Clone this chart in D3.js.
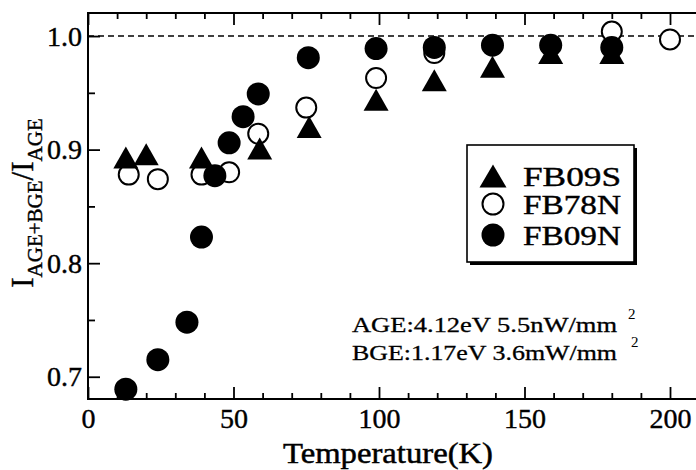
<!DOCTYPE html>
<head>
	<script src="https://d3js.org/d3.v7.min.js"></script>
	<style>
		body { margin: 0; background: #fff; }
		text { font-family: "Liberation Serif", "Times New Roman", Times, serif; fill: #000; }
	</style>
</head>
<body>
	<script type="text/javascript">
		// Chart values
		var seriesNames = ["FB09S", "FB78N", "FB09N"];

		var fb09sT = [13, 20, 39, 59, 76, 99, 119, 139, 159, 180];
		var fb09sV = [0.893, 0.896, 0.893, 0.901, 0.920, 0.944, 0.961, 0.973, 0.985, 0.985];

		var fb78nT = [14, 24, 39, 48.5, 58.5, 75, 99, 119, 180, 200];
		var fb78nV = [0.878, 0.874, 0.878, 0.880, 0.914, 0.937, 0.963, 0.985, 1.004, 0.997];

		var fb09nT = [13, 24, 34, 39, 43.6, 48.5, 53.3, 58.5, 75.7, 99, 119, 139, 159, 180];
		var fb09nV = [0.689, 0.715, 0.748, 0.823, 0.877, 0.906, 0.929, 0.949, 0.981, 0.989, 0.990, 0.992, 0.992, 0.990];

		var xMajor = [0, 50, 100, 150, 200];
		var xMinor = [10, 20, 30, 40, 60, 70, 80, 90, 110, 120, 130, 140, 160, 170, 180, 190];
		var yMajor = [0.7, 0.8, 0.9, 1.0];
		var yMinor = [0.75, 0.85, 0.95];

		var annotLines = ["AGE:4.12eV 5.5nW/mm", "BGE:1.17eV 3.6mW/mm"];

		// Size
		var width = 696, height = 470;
		var mLeft = 88, mTop = 13, mBottom = 399;
		var serif = '"Liberation Serif", "Times New Roman", Times, serif';

		var svg = d3.select('body').append('svg')
		  .attr('width', width)
		  .attr('height', height);

		var x = d3.scaleLinear().domain([0, 210]).range([mLeft, mLeft + 210 * 2.91]);
		var y = d3.scaleLinear().domain([0.6804, 1.0203]).range([mBottom, mTop]);

		// axes, ticks pointing inward
		function style(g) {
			g.select('.domain').remove();
			g.selectAll('line').attr('stroke', '#000').attr('stroke-width', 1.8);
			g.selectAll('text').attr('font-size', 28).attr('fill', '#000')
			  .attr('font-family', serif)
			  .attr('stroke', '#000').attr('stroke-width', 0.4);
		}

		var xb = svg.append('g').attr('transform', 'translate(0,' + mBottom + ')')
		  .call(d3.axisBottom(x).tickValues(xMajor).tickSize(-12).tickFormat(d3.format('d')));
		style(xb);
		xb.selectAll('text').attr('dy', null).attr('y', 29);

		svg.append('g').attr('transform', 'translate(0,' + mBottom + ')')
		  .call(d3.axisBottom(x).tickValues(xMinor).tickSize(-6).tickFormat(''))
		  .call(style);

		svg.append('g').attr('transform', 'translate(0,' + mTop + ')')
		  .call(d3.axisTop(x).tickValues(xMajor).tickSize(-12).tickFormat(''))
		  .call(style);
		svg.append('g').attr('transform', 'translate(0,' + mTop + ')')
		  .call(d3.axisTop(x).tickValues(xMinor).tickSize(-6).tickFormat(''))
		  .call(style);

		var yl = svg.append('g').attr('transform', 'translate(' + mLeft + ',0)')
		  .call(d3.axisLeft(y).tickValues(yMajor).tickSize(-12).tickPadding(6).tickFormat(d3.format('.1f')));
		style(yl);
		svg.append('g').attr('transform', 'translate(' + mLeft + ',0)')
		  .call(d3.axisLeft(y).tickValues(yMinor).tickSize(-7).tickFormat(''))
		  .call(style);

		// frame (right side falls outside the picture)
		svg.append('rect')
		  .attr('x', x(0)).attr('y', mTop)
		  .attr('width', x(210) - x(0)).attr('height', mBottom - mTop)
		  .attr('fill', 'none').attr('stroke', '#000').attr('stroke-width', 2);

		// dashed reference line at 1.0
		svg.append('line')
		  .attr('x1', x(0)).attr('x2', x(210))
		  .attr('y1', y(1.0)).attr('y2', y(1.0))
		  .attr('stroke', '#000').attr('stroke-width', 1.6)
		  .attr('stroke-dasharray', '6,4');

		function tri(w, h) {
			return 'M0,' + (-h / 2) + 'L' + (w / 2) + ',' + (h / 2) + 'L' + (-w / 2) + ',' + (h / 2) + 'Z';
		}

		// open circles
		svg.append('g').selectAll('circle')
		  .data(d3.zip(fb78nT, fb78nV)).enter().append('circle')
		  .attr('cx', function(d){ return x(d[0]); })
		  .attr('cy', function(d){ return y(d[1]); })
		  .attr('r', 10)
		  .attr('fill', '#fff').attr('stroke', '#000').attr('stroke-width', 2);

		// filled circles
		svg.append('g').selectAll('circle')
		  .data(d3.zip(fb09nT, fb09nV)).enter().append('circle')
		  .attr('cx', function(d){ return x(d[0]); })
		  .attr('cy', function(d){ return y(d[1]); })
		  .attr('r', 11.5)
		  .attr('fill', '#000');

		// triangles
		svg.append('g').selectAll('path')
		  .data(d3.zip(fb09sT, fb09sV)).enter().append('path')
		  .attr('transform', function(d){ return 'translate(' + x(d[0]) + ',' + y(d[1]) + ')'; })
		  .attr('d', tri(25, 22))
		  .attr('fill', '#000');

		// legend
		var lg = svg.append('g');
		lg.append('rect').attr('x', 470).attr('y', 148).attr('width', 167).attr('height', 117).attr('fill', '#000');
		lg.append('rect').attr('x', 467).attr('y', 145).attr('width', 167).attr('height', 117)
		  .attr('fill', '#fff').attr('stroke', '#000').attr('stroke-width', 1.6);

		var rowY = [176, 204, 235];
		lg.append('path').attr('transform', 'translate(493,' + rowY[0] + ')').attr('d', tri(27, 23)).attr('fill', '#000');
		lg.append('circle').attr('cx', 493).attr('cy', rowY[1]).attr('r', 10.5)
		  .attr('fill', '#fff').attr('stroke', '#000').attr('stroke-width', 2);
		lg.append('circle').attr('cx', 493).attr('cy', rowY[2]).attr('r', 11.5).attr('fill', '#000');

		lg.selectAll('text.lab').data(seriesNames).enter().append('text')
		  .attr('class', 'lab')
		  .attr('x', 523)
		  .attr('y', function(d, i){ return rowY[i] + 10; })
		  .attr('font-size', 27)
		  .attr('textLength', 98).attr('lengthAdjust', 'spacingAndGlyphs')
		  .attr('stroke', '#000').attr('stroke-width', 0.4)
		  .text(function(d){ return d; });

		// annotation
		svg.selectAll('text.ann').data(annotLines).enter().append('text')
		  .attr('class', 'ann')
		  .attr('x', 352)
		  .attr('y', function(d, i){ return 332 + i * 28; })
		  .attr('font-size', 21)
		  .attr('textLength', 265).attr('lengthAdjust', 'spacingAndGlyphs')
		  .attr('stroke', '#000').attr('stroke-width', 0.3)
		  .text(function(d){ return d; });
		svg.selectAll('text.sup').data(annotLines).enter().append('text')
		  .attr('class', 'sup')
		  .attr('x', function(d, i){ return 628 + i * 3; })
		  .attr('y', function(d, i){ return 319 + i * 28; })
		  .attr('font-size', 15)
		  .text('2');

		// axis titles
		svg.append('text')
		  .attr('x', 283).attr('y', 463)
		  .attr('font-size', 30)
		  .attr('textLength', 210).attr('lengthAdjust', 'spacingAndGlyphs')
		  .attr('stroke', '#000').attr('stroke-width', 0.5)
		  .text('Temperature(K)');

		var yt = svg.append('text')
		  .attr('transform', 'translate(33,203) rotate(-90)')
		  .attr('text-anchor', 'middle')
		  .attr('stroke', '#000').attr('stroke-width', 0.4);
		yt.append('tspan').attr('font-size', 31).text('I');
		yt.append('tspan').attr('font-size', 21).attr('dy', 9).text('AGE+BGE');
		yt.append('tspan').attr('font-size', 31).attr('dy', -9).text('/I');
		yt.append('tspan').attr('font-size', 21).attr('dy', 9).text('AGE');
	</script>
</body>
